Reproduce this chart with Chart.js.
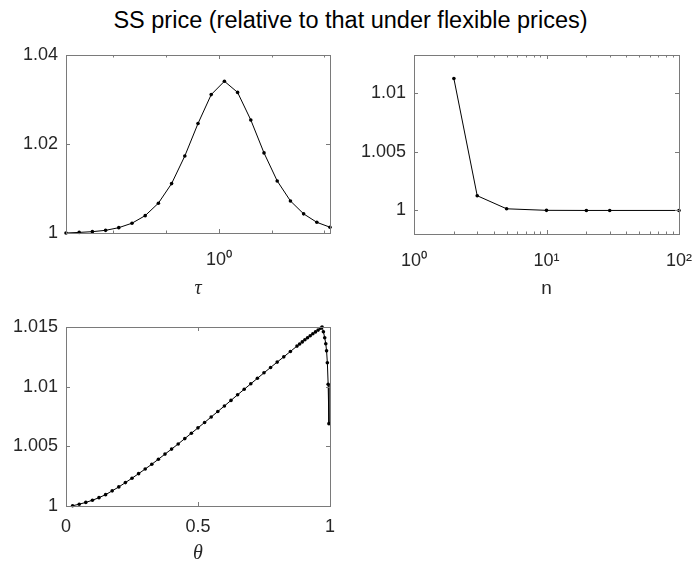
<!DOCTYPE html>
<html>
<head>
<meta charset="utf-8">
<script src="https://cdn.jsdelivr.net/npm/chart.js@4.4.0/dist/chart.umd.min.js"></script>
<style>
body { margin: 0; background: #fff; width: 697px; height: 568px; overflow: hidden; position: relative; font-family: 'Liberation Sans', Arial, sans-serif; }
canvas { position: absolute; left: 0; top: 0; }
#title { position: absolute; top: 8px; left: 0; width: 697px; padding-left: 4px; box-sizing: border-box; text-align: center; font-size: 23.5px; line-height: 24px; color: #000; white-space: nowrap; }
</style>
</head>
<body>
<div id="title">SS price (relative to that under flexible prices)</div>
<canvas id="cTau" width="697" height="568"></canvas>
<canvas id="cN" width="697" height="568"></canvas>
<canvas id="cTheta" width="697" height="568"></canvas>
<script>
// tau panel
const tauVals = [0.134, 0.1593, 0.1895, 0.2254, 0.2681, 0.3189, 0.3793, 0.4511, 0.5366, 0.6383, 0.7592,
    0.903, 1.074, 1.277, 1.519, 1.807, 2.149, 2.557, 3.041, 3.617, 4.30];
const priceTau = [1.0000, 1.00013, 1.0003, 1.0006, 1.0012, 1.0022, 1.0039, 1.0067, 1.0111, 1.0173, 1.0246,
    1.0311, 1.0341, 1.0316, 1.0254, 1.0180, 1.0117, 1.0072, 1.0043, 1.0024, 1.0013];
const tauTicks = [0.25, 0.5, 1, 2, 4];
const tauYTicks = [1, 1.02, 1.04];

// n panel
const nVals = [2, 3, 5, 10, 20, 30, 100];
const priceN = [1.0112, 1.00125, 1.00014, 1.00001, 1.0, 1.0, 1.0];
const nMajorTicks = [1, 10, 100];
const nMinorTicks = [2, 3, 4, 5, 6, 7, 8, 9, 20, 30, 40, 50, 60, 70, 80, 90];
const nYTicks = [1, 1.005, 1.01];

// theta panel
const thetaVals = [0.025, 0.05, 0.075, 0.1, 0.125, 0.15, 0.175, 0.2, 0.225, 0.25, 0.275, 0.3, 0.325, 0.35,
    0.375, 0.4, 0.425, 0.45, 0.475, 0.5, 0.525, 0.55, 0.575, 0.6, 0.625, 0.65, 0.675, 0.7, 0.725, 0.75,
    0.775, 0.8, 0.825, 0.85, 0.875, 0.885, 0.895, 0.905, 0.915, 0.925, 0.935, 0.945, 0.955, 0.965,
    0.97, 0.975, 0.98, 0.984, 0.987, 0.99, 0.993, 0.996];
const priceTheta = [1.00002, 1.00015, 1.0003, 1.00048, 1.0007, 1.00095, 1.00127, 1.0016, 1.00196, 1.00233,
    1.00271, 1.0031, 1.0035, 1.00392, 1.00435, 1.00477, 1.0052, 1.00565, 1.0061, 1.00655, 1.007, 1.00746,
    1.00792, 1.00838, 1.00885, 1.00932, 1.00978, 1.01024, 1.0107, 1.01116, 1.01161, 1.01206, 1.0125,
    1.01295, 1.0134, 1.01357, 1.01375, 1.01393, 1.0141, 1.01427, 1.01443, 1.01459, 1.01474, 1.01489,
    1.015, 1.0146, 1.0141, 1.0136, 1.013, 1.012, 1.0102, 1.0069];
const thetaTicks = [0, 0.5, 1];
const thetaYTicks = [1, 1.005, 1.01, 1.015];

const AXIS_COLOR = '#262626';
const BOX_COLOR = '#7a7a7a';
const tickFont = { family: "'Liberation Sans', Arial, sans-serif", size: 18 };
const greekFont = { family: "'Liberation Serif', 'DejaVu Serif', serif", style: 'italic', size: 20 };

const supers = { '0': '\u2070', '1': '\u00b9', '2': '\u00b2' };
const PowerLabel = function (v) {
    const e = Math.round(Math.log10(v));
    return '10' + String(e).split('').map(c => supers[c] || c).join('');
};
const NumLabel = v => parseFloat(Number(v).toFixed(4)).toString();

// box and inward ticks like matlab
const boxPlugin = {
    id: 'box',
    afterDraw(chart) {
        const { ctx, chartArea: a, scales } = chart;
        const xs = scales.x, ys = scales.y;
        ctx.save();
        ctx.strokeStyle = BOX_COLOR;
        ctx.lineWidth = 1;
        ctx.beginPath();
        for (const t of xs.ticks) {
            const px = Math.round(xs.getPixelForValue(t.value)) + 0.5;
            const len = t.minor ? 2.5 : 4;
            ctx.moveTo(px, a.bottom); ctx.lineTo(px, a.bottom - len);
            ctx.moveTo(px, a.top); ctx.lineTo(px, a.top + len);
        }
        for (const t of ys.ticks) {
            const py = Math.round(ys.getPixelForValue(t.value)) + 0.5;
            ctx.moveTo(a.left, py); ctx.lineTo(a.left + 4, py);
            ctx.moveTo(a.right, py); ctx.lineTo(a.right - 4, py);
        }
        ctx.stroke();
        ctx.strokeRect(Math.round(a.left) + 0.5, Math.round(a.top) + 0.5,
            Math.round(a.right - a.left), Math.round(a.bottom - a.top));
        ctx.restore();
    }
};

function MakePanel(id, xs, ys, area, xScale, yScale, xTitle, xTickPad, xAxisH) {
    return new Chart(document.getElementById(id), {
        type: 'line',
        data: {
            datasets: [{
                data: xs.map((v, i) => ({ x: v, y: ys[i] })),
                borderColor: '#000',
                borderWidth: 1,
                pointRadius: 1.8,
                pointBackgroundColor: '#000',
                pointBorderWidth: 0,
                tension: 0,
                clip: false
            }]
        },
        options: {
            responsive: false,
            animation: false,
            devicePixelRatio: 1,
            events: [],
            layout: {
                padding: { left: area.left - 60, top: area.top, right: 697 - area.right, bottom: 568 - area.bottom - xAxisH }
            },
            plugins: { legend: { display: false }, tooltip: { enabled: false } },
            scales: {
                x: Object.assign({
                    grid: { display: false, drawTicks: false },
                    border: { display: false },
                    title: { display: true, text: xTitle.text, font: xTitle.font, color: AXIS_COLOR, padding: 0 },
                    afterFit: s => { s.height = xAxisH; }
                }, xScale, {
                    ticks: Object.assign({ padding: xTickPad, font: tickFont, color: AXIS_COLOR, autoSkip: false, maxRotation: 0 }, xScale.ticks)
                }),
                y: Object.assign({
                    grid: { display: false, drawTicks: false },
                    border: { display: false },
                    afterFit: s => { s.width = 60; }
                }, yScale, {
                    ticks: { padding: 8, font: tickFont, color: AXIS_COLOR, callback: v => NumLabel(v) }
                })
            }
        },
        plugins: [boxPlugin]
    });
}

MakePanel('cTau', tauVals, priceTau,
    { left: 66, top: 55, right: 330, bottom: 233 },
    {
        type: 'logarithmic', min: 0.134, max: 4.30,
        afterBuildTicks: s => { s.ticks = tauTicks.map(v => ({ value: v, minor: v !== 1 })); },
        ticks: { callback: v => (v === 1 ? PowerLabel(v) : '') }
    },
    {
        type: 'linear', min: 1, max: 1.04,
        afterBuildTicks: s => { s.ticks = tauYTicks.map(v => ({ value: v })); }
    },
    { text: '\u03c4', font: greekFont }, 16, 68);

MakePanel('cN', nVals, priceN,
    { left: 414, top: 55, right: 679, bottom: 234 },
    {
        type: 'logarithmic', min: 1, max: 100,
        afterBuildTicks: s => {
            s.ticks = nMajorTicks.map(v => ({ value: v, minor: false }))
                .concat(nMinorTicks.map(v => ({ value: v, minor: true })));
        },
        ticks: { callback: v => (nMajorTicks.indexOf(v) > -1 ? PowerLabel(v) : '') }
    },
    {
        type: 'linear', min: 0.998, max: 1.0132,
        afterBuildTicks: s => { s.ticks = nYTicks.map(v => ({ value: v })); }
    },
    { text: 'n', font: { family: "'Liberation Sans', Arial, sans-serif", size: 19 } }, 16, 66);

MakePanel('cTheta', thetaVals, priceTheta,
    { left: 66, top: 327, right: 330, bottom: 506 },
    {
        type: 'linear', min: 0, max: 1,
        afterBuildTicks: s => { s.ticks = thetaTicks.map(v => ({ value: v })); },
        ticks: { callback: v => NumLabel(v) }
    },
    {
        type: 'linear', min: 1, max: 1.015,
        afterBuildTicks: s => { s.ticks = thetaYTicks.map(v => ({ value: v })); }
    },
    { text: '\u03b8', font: greekFont }, 10, 60);
</script>
</body>
</html>
